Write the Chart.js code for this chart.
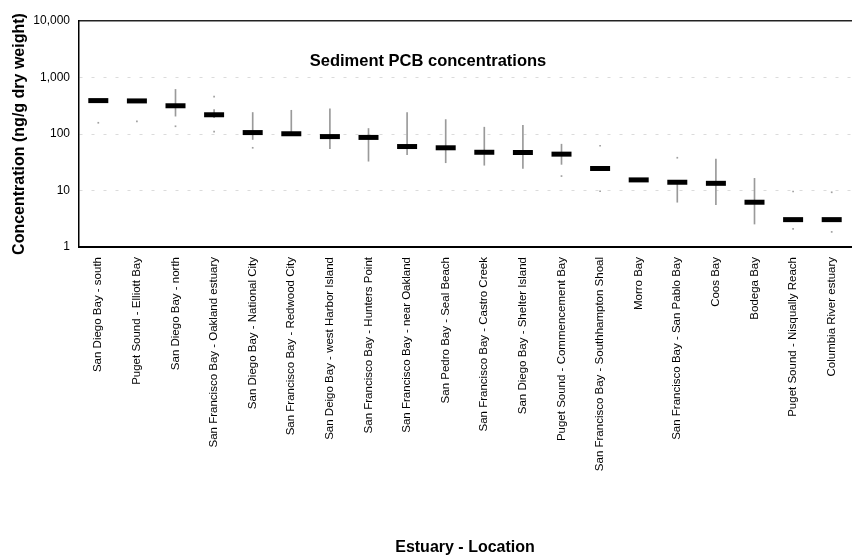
<!DOCTYPE html>
<html>
<head>
<meta charset="utf-8">
<script src="https://cdn.jsdelivr.net/npm/chart.js@4/dist/chart.umd.min.js"></script>
<style>
  html, body { margin: 0; padding: 0; background: #fff; overflow: hidden; }
  #wrap { position: absolute; left: 0; top: 0; width: 866px; height: 557px; }
</style>
</head>
<body>
<div id="wrap"><canvas id="c" width="866" height="557"></canvas></div>
<script>
const categories = [
  "San Diego Bay - south",
  "Puget Sound - Elliott Bay",
  "San Diego Bay - north",
  "San Francisco Bay - Oakland estuary",
  "San Diego Bay - National City",
  "San Francisco Bay - Redwood City",
  "San Deigo Bay - west Harbor Island",
  "San Francisco Bay - Hunters Point",
  "San Francisco Bay - near Oakland",
  "San Pedro Bay - Seal Beach",
  "San Francisco Bay - Castro Creek",
  "San Diego Bay - Shelter Island",
  "Puget Sound - Commencement Bay",
  "San Francisco Bay - Southhampton Shoal",
  "Morro Bay",
  "San Francisco Bay - San Pablo Bay",
  "Coos Bay",
  "Bodega Bay",
  "Puget Sound - Nisqually Reach",
  "Columbia River estuary"
];
const medians = [390, 385, 316, 219, 106, 101, 90, 87, 60, 57, 47.5, 47, 44, 24.5, 15.4, 14, 13.4, 6.2, 3.05, 3.05];
const whiskerLow  = [null, null, 207, 194, 80, 101, 55, 33, 43, 31, 28, 24.5, 29, null, null, 6.2, 5.6, 2.55, null, null];
const whiskerHigh = [null, null, 615, 270, 240, 263, 280, 125, 240, 180, 132, 143, 66, null, null, 14, 36, 16.4, null, null];
const outlierIndex = [0, 1, 2, 3, 3, 4, 12, 13, 13, 15, 18, 18, 19, 19];
const outlierValue = [158, 167, 137, 460, 110, 57, 18, 62, 9.7, 38, 9.6, 2.1, 9.3, 1.85];
const tickValues = [1, 10, 100, 1000, 10000];
const chartTitle = "Sediment PCB concentrations";
const yTitle = "Concentration (ng/g dry weight)";
const xTitle = "Estuary - Location";

const whiskerData = categories.map((c, i) =>
  (whiskerLow[i] == null || whiskerHigh[i] == null) ? null : [whiskerLow[i], whiskerHigh[i]]);
const outlierData = outlierIndex.map((idx, k) => ({ x: categories[idx], y: outlierValue[k] }));

const innerTitle = {
  id: 'innerTitle',
  afterDraw(chart) {
    const ctx = chart.ctx;
    ctx.save();
    ctx.font = 'bold 16.5px "Liberation Sans", Arial, sans-serif';
    ctx.fillStyle = '#000';
    ctx.textAlign = 'center';
    ctx.textBaseline = 'alphabetic';
    ctx.fillText(chartTitle, 428, 66);
    ctx.restore();
  }
};

new Chart(document.getElementById('c'), {
  data: {
    labels: categories,
    datasets: [
      {
        type: 'bar',
        label: 'range',
        data: whiskerData,
        backgroundColor: '#9a9a9a',
        barThickness: 1,
        grouped: false,
        order: 3
      },
      {
        type: 'line',
        label: 'individual',
        data: outlierData,
        showLine: false,
        pointStyle: 'rect',
        pointRadius: 1.2,
        pointBackgroundColor: '#a0a0a0',
        pointBorderWidth: 0,
        order: 2
      },
      {
        type: 'line',
        label: 'median',
        data: medians,
        showLine: false,
        pointStyle: 'line',
        pointRadius: 10,
        pointBorderWidth: 5,
        pointBorderColor: '#000',
        order: 1
      }
    ]
  },
  options: {
    responsive: false,
    animation: false,
    events: [],
    layout: { padding: { top: 21, right: 6.5, left: 0, bottom: 0 } },
    plugins: {
      legend: { display: false },
      tooltip: { enabled: false },
      title: { display: false }
    },
    scales: {
      x: {
        type: 'category',
        position: 'bottom',
        offset: true,
        grid: { display: false, drawTicks: false },
        border: { display: true, color: '#000', width: 2 },
        ticks: {
          autoSkip: false,
          minRotation: 90,
          maxRotation: 90,
          padding: 10,
          color: '#000',
          font: { family: '"Liberation Sans", Arial, sans-serif', size: 11.5 }
        },
        title: {
          display: true,
          text: xTitle,
          color: '#000',
          padding: { top: 0, bottom: 0 },
          font: { family: '"Liberation Sans", Arial, sans-serif', size: 16, weight: 'bold' }
        },
        afterFit(scale) { scale.height = 310; }
      },
      xTop: {
        type: 'category',
        position: 'top',
        labels: categories,
        offset: true,
        grid: { display: false, drawTicks: false },
        border: { display: true, color: '#222', width: 1.5 },
        ticks: { display: false },
        afterFit(scale) { scale.height = 0; }
      },
      y: {
        type: 'logarithmic',
        min: 1,
        max: 10000,
        afterBuildTicks(scale) { scale.ticks = tickValues.map(v => ({ value: v })); },
        grid: {
          drawTicks: false,
          color(ctx) {
            const v = ctx.tick && ctx.tick.value;
            return (v === 10 || v === 100 || v === 1000) ? 'rgba(0,0,0,0.14)' : 'rgba(0,0,0,0)';
          },
          lineWidth: 1
        },
        border: { display: true, color: '#000', width: 1.5, dash: [3, 9] },
        ticks: {
          padding: 9,
          color: '#000',
          font: { family: '"Liberation Sans", Arial, sans-serif', size: 12 },
          callback(v) { return Number(v).toLocaleString('en-US'); }
        },
        title: {
          display: true,
          text: yTitle,
          color: '#000',
          padding: { top: 10, bottom: 0 },
          font: { family: '"Liberation Sans", Arial, sans-serif', size: 16, weight: 'bold' }
        },
        afterFit(scale) { scale.width = 79; }
      }
    }
  },
  plugins: [innerTitle]
});
</script>
</body>
</html>
